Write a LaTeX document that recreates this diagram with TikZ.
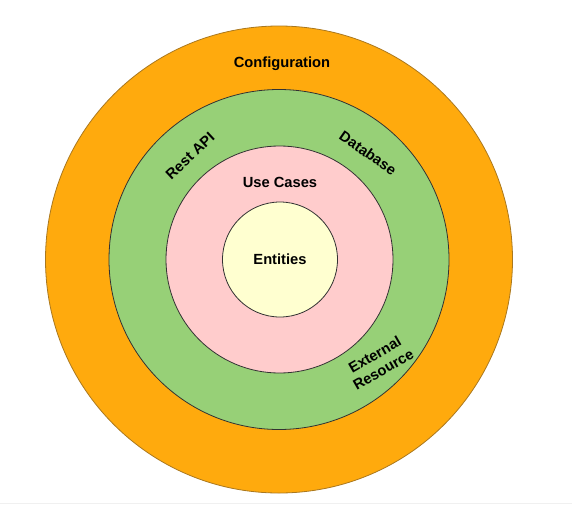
\documentclass[tikz,border=0pt]{standalone}
\usepackage{fontspec}
\setmainfont{Liberation Sans}
\definecolor{ringorange}{RGB}{255,170,13}
\definecolor{ringorangedraw}{RGB}{170,120,30}
\definecolor{ringgreen}{RGB}{151,208,119}
\definecolor{ringpink}{RGB}{255,204,204}
\definecolor{ringyellow}{RGB}{255,255,208}
\definecolor{edgegray}{RGB}{50,50,50}
\tikzset{
  ring/.style={circle, inner sep=0pt, line width=0.8pt},
  lbl/.style={font=\fontsize{14.7}{17}\selectfont\bfseries, text=black, inner sep=0pt, align=center}
}
\begin{document}
\begin{tikzpicture}[x=1pt,y=-1pt]
\useasboundingbox (0,0) rectangle (572,506);
\fill[white] (0,0) rectangle (572,506);
\draw[line width=0.8pt, black!6] (0,503) -- (572,503);
\node[ring, fill=ringorange, draw=ringorangedraw, minimum size=467pt] (config) at (279,259.5) {};
\node[ring, fill=ringgreen, draw=edgegray, minimum size=340pt] (adapters) at (279,259.5) {};
\node[ring, fill=ringpink, draw=edgegray, minimum size=227pt] (usecases) at (279.5,259.5) {};
\node[ring, fill=ringyellow, draw=edgegray, minimum size=115pt] (entities) at (280,259.5) {};
\node[lbl] (tconfig) at (282,63.5) {Configuration};
\node[lbl] (tusecases) at (280,182) {Use Cases};
\node[lbl] (tentities) at (280,259) {Entities};
\node[lbl, rotate=43] (trest) at (190,156) {Rest API};
\node[lbl, rotate=-35] (tdb) at (368,153) {Database};
\node[lbl, rotate=30] (text) at (379,362) {External\\Resource};
\end{tikzpicture}
\end{document}
